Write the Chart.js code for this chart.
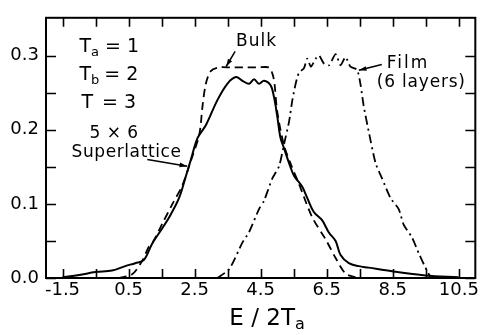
<!DOCTYPE html>
<html>
<head>
<meta charset="utf-8">
<script src="https://cdn.jsdelivr.net/npm/chart.js@4.4.0/dist/chart.umd.min.js"></script>
<style>
  body { margin: 0; background: #fff; }
  canvas { display: block; }
</style>
</head>
<body>
<canvas id="myChart" width="481" height="335"></canvas>
<script>
// tick positions and labels
const xTickVals = [-1.5, -0.5, 0.5, 1.5, 2.5, 3.5, 4.5, 5.5, 6.5, 7.5, 8.5, 9.5, 10.5];
const xTickLabels = ['-1.5', '0.5', '2.5', '4.5', '6.5', '8.5', '10.5'];
const yTickVals = [0, 0.05, 0.1, 0.15, 0.2, 0.25, 0.3];
const yTickLabels = ['0.0', '0.1', '0.2', '0.3'];

// 5 x 6 superlattice (solid)
const superE = [-1.5, -1.0, -0.5, 0.0, 0.4, 0.7, 0.96, 1.21, 1.46, 1.73, 2.03, 2.24, 2.39, 2.59, 2.84, 3.19, 3.49, 3.75, 3.95, 4.15, 4.3, 4.45, 4.6, 4.8, 4.9, 5.0, 5.1, 5.2, 5.36, 5.51, 5.76, 5.91, 6.11, 6.36, 6.57, 6.77, 6.92, 7.17, 7.47, 7.77, 8.48, 9.49, 10.49];
const superDOS = [0.001, 0.004, 0.008, 0.010, 0.016, 0.020, 0.024, 0.046, 0.063, 0.082, 0.108, 0.138, 0.160, 0.189, 0.206, 0.240, 0.262, 0.271, 0.266, 0.262, 0.268, 0.262, 0.266, 0.260, 0.245, 0.219, 0.189, 0.176, 0.155, 0.138, 0.123, 0.108, 0.089, 0.078, 0.061, 0.050, 0.031, 0.020, 0.016, 0.014, 0.009, 0.0035, 0.001];

// bulk (dashed)
const bulkE = [0.2, 0.61, 0.91, 1.11, 1.23, 1.53, 1.83, 2.13, 2.4, 2.64, 2.74, 2.84, 2.99, 3.24, 3.6, 4.0, 4.4, 4.75, 4.86, 4.92, 5.0, 5.2, 5.4, 5.66, 6.06, 6.47, 6.77, 7.07, 7.37];
const bulkDOS = [0.0, 0.005, 0.023, 0.042, 0.048, 0.074, 0.100, 0.125, 0.160, 0.193, 0.232, 0.262, 0.279, 0.284, 0.284, 0.284, 0.284, 0.284, 0.275, 0.262, 0.225, 0.180, 0.155, 0.127, 0.082, 0.052, 0.027, 0.006, 0.001];

// film, 6 layers (dash-dot)
const filmE = [3.19, 3.55, 3.95, 4.15, 4.45, 4.6, 4.85, 5.06, 5.21, 5.36, 5.46, 5.56, 5.66, 5.81, 5.91, 6.02, 6.17, 6.27, 6.42, 6.57, 6.77, 6.92, 7.07, 7.22, 7.42, 7.52, 7.62, 7.77, 7.98, 8.18, 8.43, 8.68, 8.83, 9.08, 9.29, 9.49, 9.64];
const filmDOS = [0.0, 0.012, 0.048, 0.062, 0.093, 0.104, 0.134, 0.151, 0.181, 0.211, 0.240, 0.262, 0.277, 0.283, 0.296, 0.285, 0.296, 0.300, 0.289, 0.287, 0.302, 0.287, 0.298, 0.285, 0.281, 0.262, 0.232, 0.198, 0.155, 0.134, 0.108, 0.093, 0.072, 0.055, 0.033, 0.014, 0.001];

const FONT = '"DejaVu Sans", sans-serif';
const toPoints = (xs, ys) => xs.map((x, i) => ({ x: x, y: ys[i] }));

// frame, inward ticks, annotations
const decorPlugin = {
    id: 'decor',
    afterDraw(chart) {
        const ctx = chart.ctx;
        const a = chart.chartArea;
        const xs = chart.scales.x, ys = chart.scales.y;
        const P = (x, y) => [xs.getPixelForValue(x), ys.getPixelForValue(y)];
        ctx.save();
        ctx.strokeStyle = '#000';
        ctx.fillStyle = '#000';
        ctx.lineWidth = 2;
        ctx.strokeRect(a.left, a.top, a.right - a.left, a.bottom - a.top);
        ctx.lineWidth = 1.6;
        ctx.beginPath();
        xs.ticks.forEach(t => {
            const px = Math.round(xs.getPixelForValue(t.value)) + 0.5;
            ctx.moveTo(px, a.bottom); ctx.lineTo(px, a.bottom - 9);
            ctx.moveTo(px, a.top); ctx.lineTo(px, a.top + 9);
        });
        ys.ticks.forEach(t => {
            const py = Math.round(ys.getPixelForValue(t.value)) + 0.5;
            ctx.moveTo(a.left, py); ctx.lineTo(a.left + 10, py);
            ctx.moveTo(a.right, py); ctx.lineTo(a.right - 10, py);
        });
        ctx.stroke();

        const text = (s, x, y, size, spacing) => {
            ctx.font = size + 'px ' + FONT;
            ctx.letterSpacing = (spacing || 0) + 'px';
            ctx.textAlign = 'left';
            ctx.textBaseline = 'alphabetic';
            const p = P(x, y);
            ctx.fillText(s, p[0], p[1]);
        };
        const subText = (main, sub, rest, x, y, size, restGap) => {
            const p = P(x, y);
            ctx.letterSpacing = '0px';
            ctx.textAlign = 'left';
            ctx.textBaseline = 'alphabetic';
            ctx.font = size + 'px ' + FONT;
            ctx.fillText(main, p[0], p[1]);
            let cx = p[0] + ctx.measureText(main).width;
            if (sub) {
                ctx.font = Math.round(size * 0.7) + 'px ' + FONT;
                ctx.fillText(sub, cx, p[1] + 4);
                cx += ctx.measureText(sub).width;
            }
            ctx.font = size + 'px ' + FONT;
            ctx.fillText(rest, cx + restGap, p[1]);
        };
        const arrow = (x0, y0, x1, y1) => {
            const a0 = P(x0, y0), a1 = P(x1, y1);
            const ang = Math.atan2(a1[1] - a0[1], a1[0] - a0[0]);
            ctx.lineWidth = 1.5;
            ctx.beginPath();
            ctx.moveTo(a0[0], a0[1]);
            ctx.lineTo(a1[0], a1[1]);
            ctx.stroke();
            ctx.beginPath();
            ctx.moveTo(a1[0], a1[1]);
            ctx.lineTo(a1[0] - 8 * Math.cos(ang - 0.3), a1[1] - 8 * Math.sin(ang - 0.3));
            ctx.lineTo(a1[0] - 8 * Math.cos(ang + 0.3), a1[1] - 8 * Math.sin(ang + 0.3));
            ctx.closePath();
            ctx.fill();
        };

        subText('T', 'a', '= 1', -0.986, 0.3045, 19, 6);
        subText('T', 'b', '= 2', -0.986, 0.2674, 19, 5);
        subText('T', '', '= 3', -0.926, 0.229, 19, 9);
        text('5 \u00d7 6', -0.684, 0.1892, 17, 0.5);
        text('Superlattice', -1.228, 0.1636, 17, 0.6);
        text('Bulk', 3.757, 0.3135, 17, 1);
        text('Film', 8.319, 0.2828, 17, 2);
        text('(6 layers)', 8.017, 0.2572, 17, 0.8);

        arrow(1.068, 0.1598, 2.276, 0.1508);
        arrow(3.727, 0.3058, 3.455, 0.2853);
        arrow(8.168, 0.2879, 7.473, 0.2802);

        // x axis title E / 2T_a
        ctx.letterSpacing = '0px';
        ctx.font = '23px ' + FONT;
        const main = 'E / 2T';
        const w = ctx.measureText(main).width;
        const cx = (a.left + a.right) / 2 + 6 - (w + 9) / 2;
        const by = a.bottom + 47;
        ctx.fillText(main, cx, by);
        ctx.font = '16px ' + FONT;
        ctx.fillText('a', cx + w, by + 4);
        ctx.restore();
    }
};

const ctx = document.getElementById('myChart');
const myChart = new Chart(ctx, {
    type: 'line',
    data: {
        datasets: [
            {
                label: '5 x 6 Superlattice',
                data: toPoints(superE, superDOS),
                borderColor: '#000',
                borderWidth: 2,
                tension: 0.35,
                pointRadius: 0
            },
            {
                label: 'Bulk',
                data: toPoints(bulkE, bulkDOS),
                borderColor: '#000',
                borderWidth: 1.8,
                borderDash: [8, 5],
                tension: 0.3,
                pointRadius: 0
            },
            {
                label: 'Film (6 layers)',
                data: toPoints(filmE, filmDOS),
                borderColor: '#000',
                borderWidth: 1.8,
                borderDash: [9, 4, 2, 4],
                tension: 0.2,
                pointRadius: 0
            }
        ]
    },
    options: {
        responsive: false,
        animation: false,
        layout: { padding: { top: 3, right: 4, left: 0, bottom: 0 } },
        plugins: { legend: { display: false }, tooltip: { enabled: false } },
        scales: {
            x: {
                type: 'linear',
                min: -2,
                max: 11,
                grid: { display: false, drawTicks: false },
                border: { display: false },
                afterBuildTicks: (scale) => { scale.ticks = xTickVals.map(v => ({ value: v })); },
                afterFit: (scale) => { scale.height = 57; },
                ticks: {
                    autoSkip: false,
                    maxRotation: 0,
                    padding: 2,
                    color: '#000',
                    font: { family: FONT, size: 18 },
                    callback: (v) => {
                        const s = v.toFixed(1);
                        return xTickLabels.includes(s) ? s : '';
                    }
                }
            },
            y: {
                min: 0,
                max: 0.351,
                grid: { display: false, drawTicks: false },
                border: { display: false },
                afterBuildTicks: (scale) => { scale.ticks = yTickVals.map(v => ({ value: v })); },
                afterFit: (scale) => { scale.width = 46; },
                ticks: {
                    autoSkip: false,
                    padding: 7,
                    color: '#000',
                    font: { family: FONT, size: 18 },
                    callback: (v) => {
                        const s = v.toFixed(1);
                        return (yTickLabels.includes(s) && Math.abs(v * 10 - Math.round(v * 10)) < 1e-6) ? s : '';
                    }
                }
            }
        }
    },
    plugins: [decorPlugin]
});
</script>
</body>
</html>
